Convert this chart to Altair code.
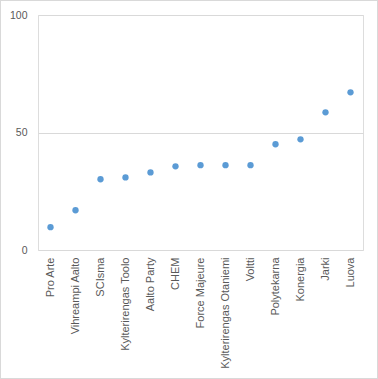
import altair as alt
import pandas as pd

names = ["Pro Arte", "Vihreampi Aalto", "SCIsma", "Kylterirengas Toolo", "Aalto Party",
         "CHEM", "Force Majeure", "Kylterirengas Otaniemi", "Voltti", "Polytekarna",
         "Konergia", "Jarki", "Luova"]
values = [9.7, 16.9, 30.1, 30.9, 33.0, 35.6, 36.1, 36.1, 36.1, 45.0, 47.1, 58.6, 67.1]

df = pd.DataFrame({"name": names, "value": values})

FONT = "Liberation Sans"
GREY = "#595959"

points = alt.Chart(df).mark_circle(size=40, opacity=1, color="#5b9bd5").encode(
    x=alt.X("name:N", sort=None, title=None,
            scale=alt.Scale(paddingInner=0, paddingOuter=0),
            axis=alt.Axis(labelAngle=270, domain=False, ticks=False, labelPadding=7,
                          labelFont=FONT, labelFontSize=11, labelColor=GREY,
                          labelAlign="right", labelBaseline="middle")),
    y=alt.Y("value:Q", title=None,
            scale=alt.Scale(domain=[0, 100], nice=False),
            axis=alt.Axis(values=[0, 50, 100], domain=False, ticks=False, labelPadding=11,
                          gridColor="#d9d9d9", labelFont=FONT, labelFontSize=10.5,
                          labelColor=GREY)),
)

border = alt.Chart(df).mark_rect(fill=None, stroke="#d9d9d9", strokeWidth=1).encode(
    x=alt.value(-37.5), x2=alt.value(339.5), y=alt.value(-14.5), y2=alt.value(363.5)
)

chart = alt.layer(border, points).properties(
    width=325, height=235,
    autosize=alt.AutoSizeParams(type="none"),
    padding={"left": 38, "top": 15, "right": 15, "bottom": 129},
).configure_view(stroke=None).configure(background="white")

chart.save("out.html", embed_options={"renderer": "svg", "actions": False})
